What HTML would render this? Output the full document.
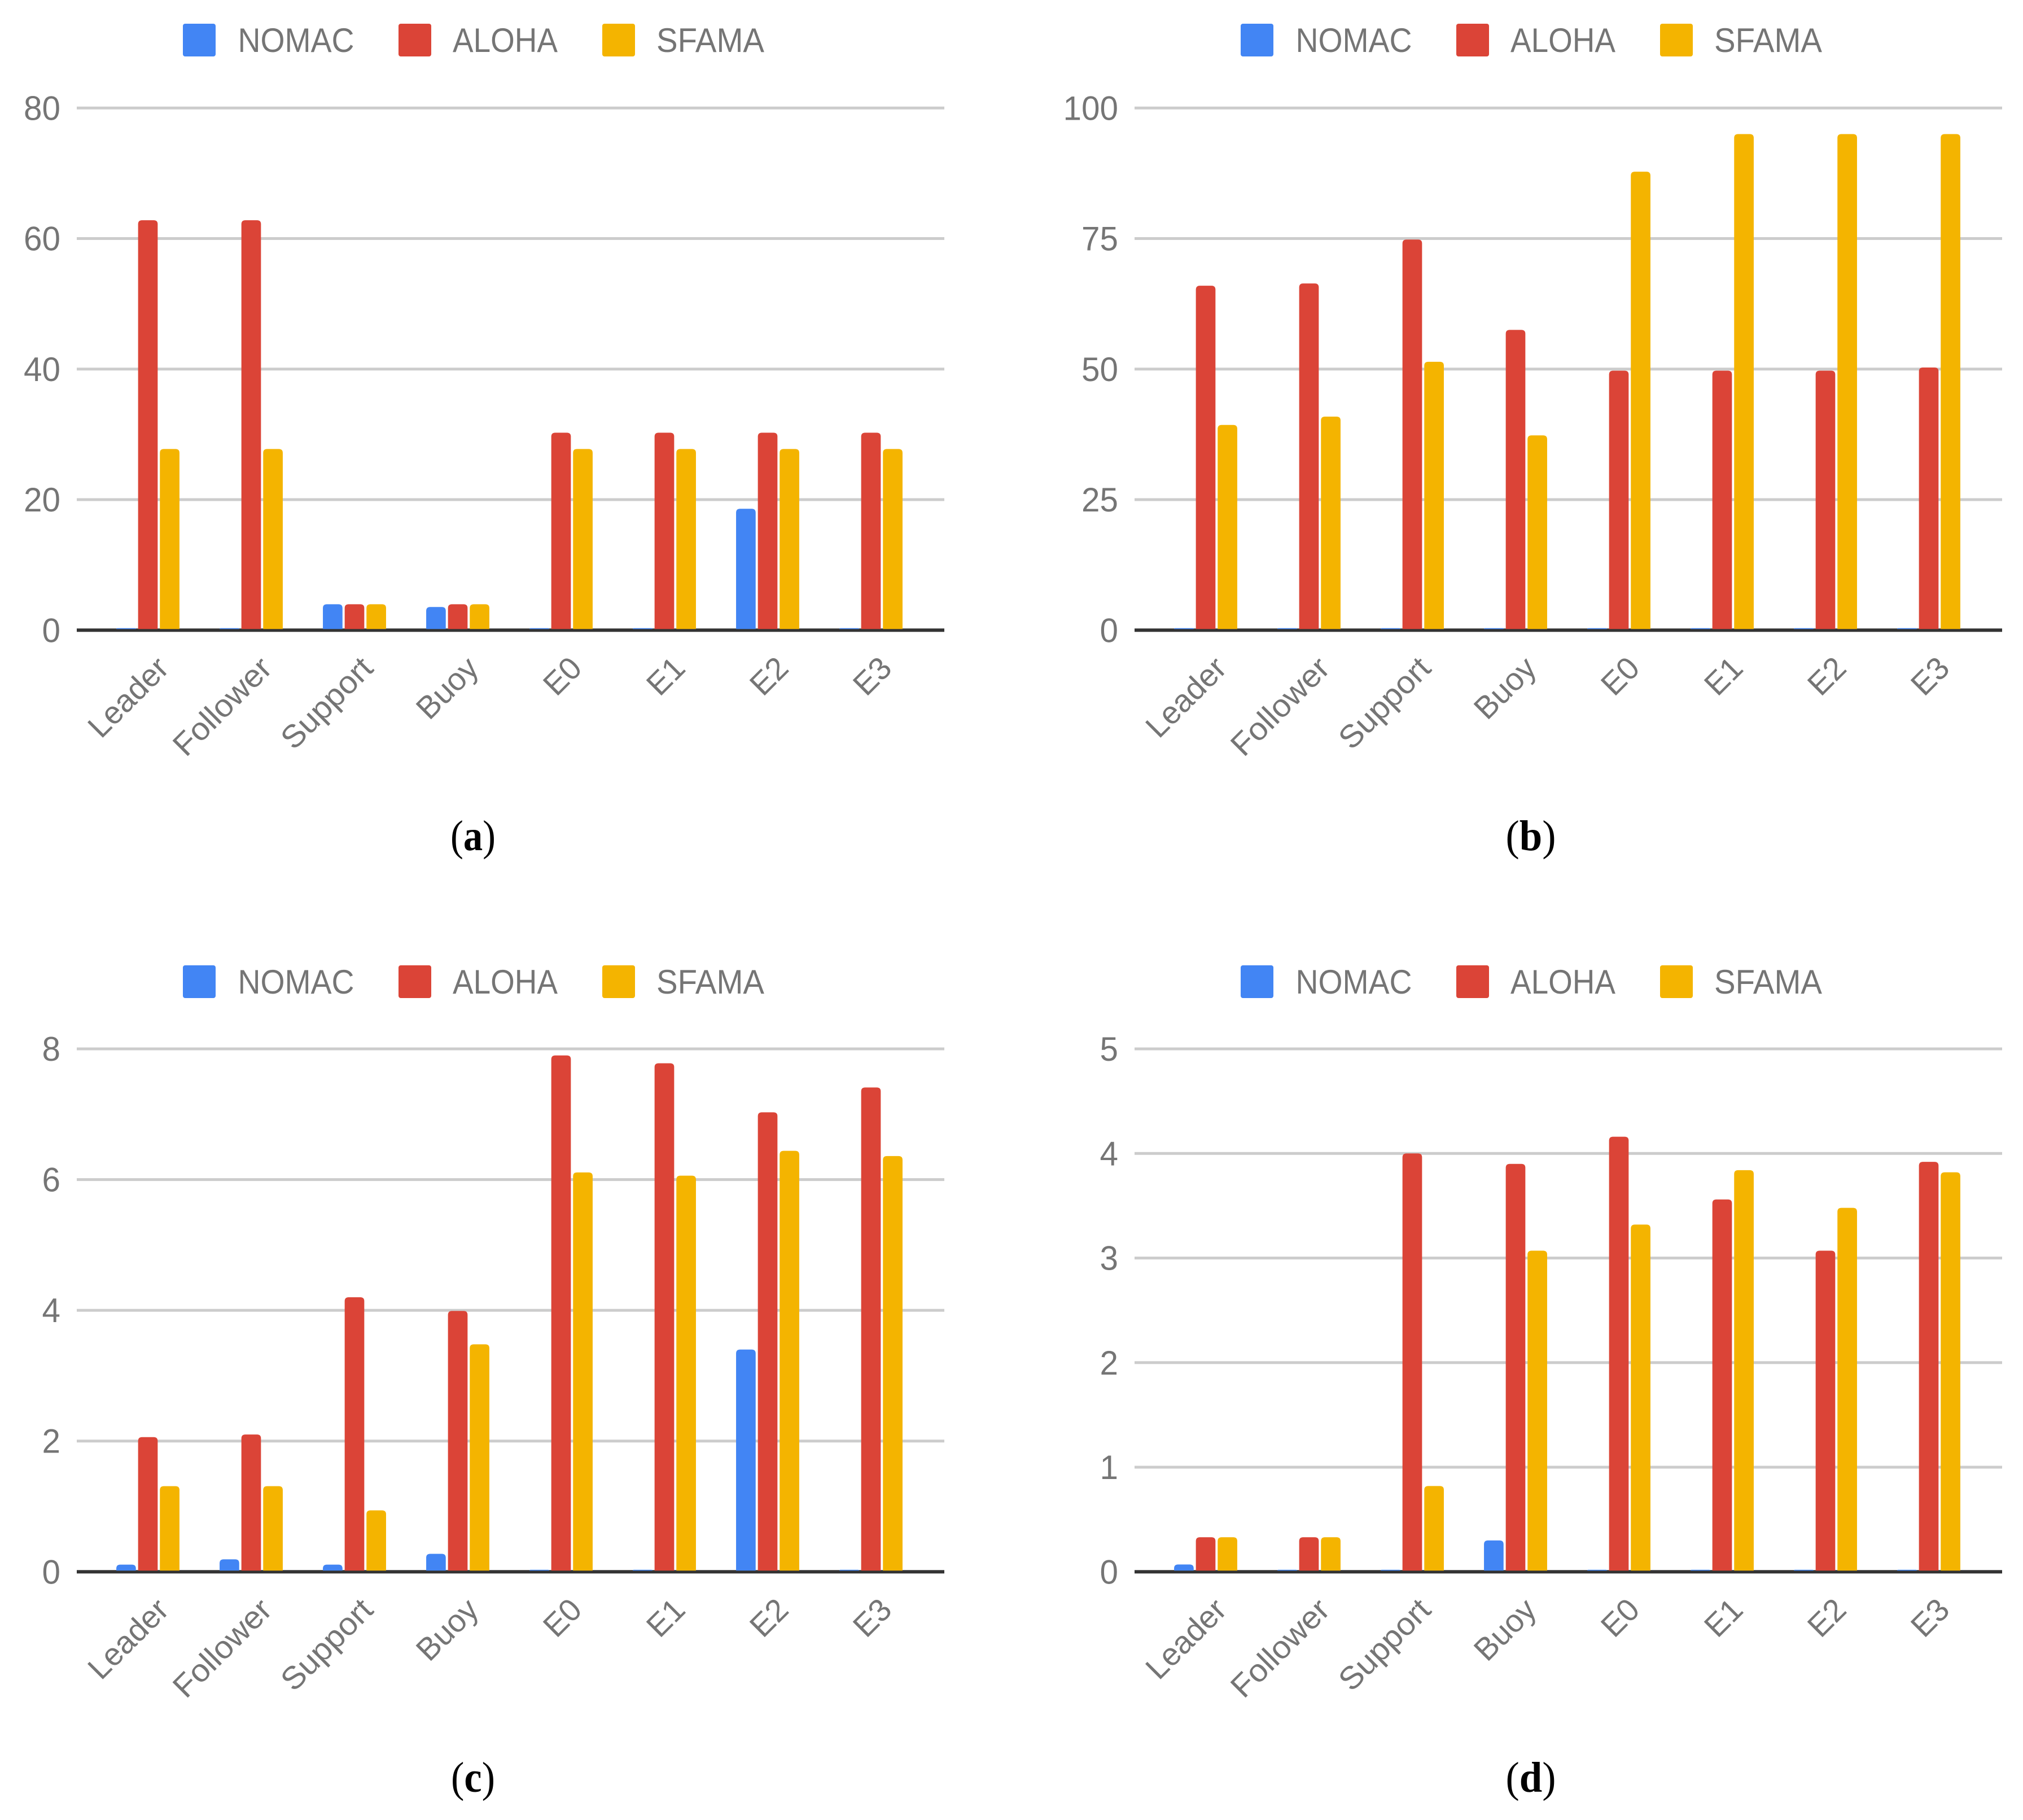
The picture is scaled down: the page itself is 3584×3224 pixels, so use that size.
<!DOCTYPE html>
<html lang="en">
<head>
<meta charset="utf-8">
<title>NOMAC, ALOHA and SFAMA bar charts</title>
<style>
html,body{margin:0;padding:0;background:#fff;}
svg{display:block;}
.tick{font-family:"Liberation Sans",sans-serif;font-size:60px;fill:#757575;}
.cat{font-family:"Liberation Sans",sans-serif;font-size:56px;fill:#757575;}
.leg{font-family:"Liberation Sans",sans-serif;font-size:60px;fill:#757575;}
.cap{font-family:"Liberation Serif",serif;font-size:76px;fill:#000;}
</style>
</head>
<body>
<svg id="figure" xmlns="http://www.w3.org/2000/svg" width="3584" height="3224" viewBox="0 0 3584 3224"></svg>
<script>
const categories = ["Leader","Follower","Support","Buoy","E0","E1","E2","E3"];
const seriesNames = ["NOMAC","ALOHA","SFAMA"];
const seriesColors = ["#4285f4","#db4437","#f4b400"];
const captions = ["a","b","c","d"];

const ticksA = [0,20,40,60,80];
const nomacA = [0,0,3.97,3.55,0,0,18.6,0];
const alohaA = [62.8,62.8,3.97,3.97,30.25,30.25,30.25,30.25];
const sfamaA = [27.76,27.76,3.97,3.97,27.76,27.76,27.76,27.76];

const ticksB = [0,25,50,75,100];
const nomacB = [0,0,0,0,0,0,0,0];
const alohaB = [65.96,66.4,74.8,57.5,49.7,49.7,49.7,50.3];
const sfamaB = [39.3,40.9,51.4,37.3,87.8,95.0,95.0,95.0];

const ticksC = [0,2,4,6,8];
const nomacC = [0.11,0.19,0.11,0.275,0,0,3.4,0];
const alohaC = [2.06,2.1,4.2,3.99,7.9,7.78,7.03,7.41];
const sfamaC = [1.31,1.31,0.94,3.48,6.11,6.06,6.44,6.36];

const ticksD = [0,1,2,3,4,5];
const nomacD = [0.07,0,0,0.3,0,0,0,0];
const alohaD = [0.33,0.33,4.0,3.9,4.16,3.56,3.07,3.92];
const sfamaD = [0.33,0.33,0.82,3.07,3.32,3.84,3.48,3.82];

const NS = "http://www.w3.org/2000/svg";
const root = document.getElementById("figure");

function make(parent, tag, attrs, text) {
  const el = document.createElementNS(NS, tag);
  for (const k in attrs) el.setAttribute(k, attrs[k]);
  if (text !== undefined) el.textContent = text;
  parent.appendChild(el);
  return el;
}

function drawPanel(index, ticks, seriesValues) {
  const dx = index % 2 ? 1874 : 0;
  const dy = index > 1 ? 1668 : 0;
  const left = 136 + dx, right = 1673 + dx;
  const zeroY = 1116.3 + dy, topY = index > 1 ? 1858 : 191.3;
  const yMax = ticks[ticks.length - 1];
  const yScale = v => zeroY - (v / yMax) * (zeroY - topY);
  const xScale = (c, s) => 262 + dx + c * 183 + (s - 1) * 38.6;
  const barW = 34.7;

  const panel = make(root, "g", {});
  
  

  // legend
  const swatchX = [324, 706, 1067];
  const labelX = [421.5, 802, 1163];
  const labelW = [206, 186, 191];
  seriesNames.forEach((name, s) => {
    const entry = make(panel, "g", {});
    
    
    const sw = make(entry, "rect", {x: swatchX[s] + dx, y: 42 + dy, width: 58, height: 58, rx: 4, ry: 4, fill: seriesColors[s]});
    
    
    const tx = make(entry, "text", {class: "leg", x: labelX[s] + dx, y: 92 + dy, textLength: labelW[s], lengthAdjust: "spacingAndGlyphs"}, name);
    
    
  });

  // gridlines and y tick labels
  ticks.forEach(t => {
    const y = yScale(t);
    if (t !== 0) {
      const g = make(panel, "rect", {x: left, y: y - 2.5, width: right - left, height: 5, fill: "#cccccc"});
      
      
    }
    const lb = make(panel, "text", {class: "tick", x: 107 + dx, y: y + 21, "text-anchor": "end", textLength: String(t).length * 32.5, lengthAdjust: "spacingAndGlyphs"}, String(t));
    
    
  });

  // x axis line (bars sit slightly over its upper edge)
  const axis = make(panel, "rect", {x: left, y: zeroY - 3, width: right - left, height: 6, fill: "#333333"});
  
  

  // bars
  const baseY = zeroY - 2;
  seriesValues.forEach((vals, s) => {
    vals.forEach((v, c) => {
      const cx = xScale(c, s);
      const x0 = cx - barW / 2, x1 = cx + barW / 2;
      const top = Math.min(yScale(v), baseY - 1.5);
      const r = Math.min(7, baseY - top);
      const d = "M" + x0 + " " + baseY + "V" + (top + r) +
        "Q" + x0 + " " + top + " " + (x0 + r) + " " + top +
        "H" + (x1 - r) +
        "Q" + x1 + " " + top + " " + x1 + " " + (top + r) +
        "V" + baseY + "Z";
      const bar = make(panel, "path", {d: d, fill: seriesColors[s]});
      
      
    });
  });

  // category labels
  const labelLengths = [174, 220, 203, 128, 68.5, 68.5, 68.5, 68.5];
  const labelShift = [0, 0, -4, 0, 0, 0, 0, 0];
  categories.forEach((cat, c) => {
    const ax = xScale(c, 1) + 40 + labelShift[c];
    const ay = 1187 + dy;
    const lb = make(panel, "text", {class: "cat", x: ax, y: ay, "text-anchor": "end", textLength: labelLengths[c], lengthAdjust: "spacingAndGlyphs", transform: "rotate(-45 " + ax + " " + ay + ")"}, cat);
    
    
  });

  // caption
  const capWidths = [80, 89, 78, 89];
  const cap = make(panel, "text", {class: "cap", x: 838 + dx, y: 1506 + dy, "text-anchor": "middle", textLength: capWidths[index], lengthAdjust: "spacingAndGlyphs"});
  
  
  make(cap, "tspan", {}, "(");
  make(cap, "tspan", {"font-weight": "bold"}, captions[index]);
  make(cap, "tspan", {}, ")");
}

drawPanel(0, ticksA, [nomacA, alohaA, sfamaA]);
drawPanel(1, ticksB, [nomacB, alohaB, sfamaB]);
drawPanel(2, ticksC, [nomacC, alohaC, sfamaC]);
drawPanel(3, ticksD, [nomacD, alohaD, sfamaD]);
</script>
</body>
</html>
